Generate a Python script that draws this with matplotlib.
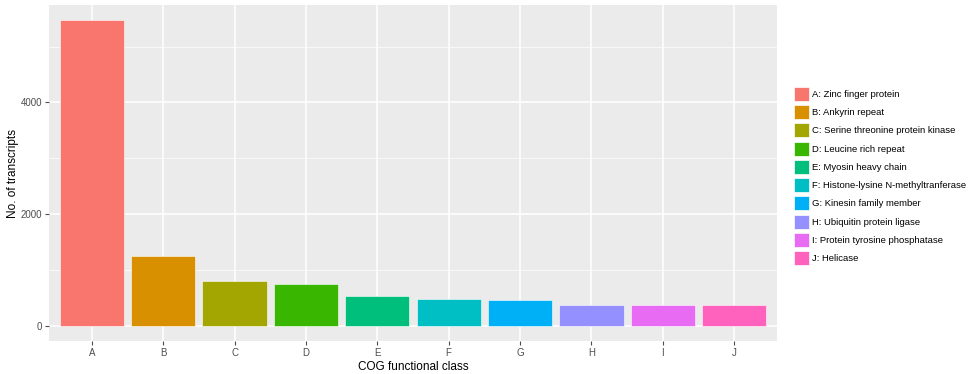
import matplotlib.pyplot as plt
from matplotlib.patches import Patch

# data
classes = ["A", "B", "C", "D", "E", "F", "G", "H", "I", "J"]
names = ["Zinc finger protein", "Ankyrin repeat", "Serine threonine protein kinase",
         "Leucine rich repeat", "Myosin heavy chain", "Histone-lysine N-methyltranferase",
         "Kinesin family member", "Ubiquitin protein ligase", "Protein tyrosine phosphatase",
         "Helicase"]
counts = [5470, 1250, 797, 755, 528, 474, 461, 380, 378, 367]
colors = ["#F8766D", "#D89000", "#A3A500", "#39B600", "#00BF7D",
          "#00BFC4", "#00B0F6", "#9590FF", "#E76BF3", "#FF62BC"]

plt.rcParams['font.family'] = ['Liberation Sans', 'DejaVu Sans']

fig = plt.figure(figsize=(9.77, 3.74), dpi=100)
ax = fig.add_axes([49/977, 33/374, (777-49)/977, (341-5)/374])
ax.set_facecolor("#EBEBEB")

x = list(range(len(classes)))
ax.bar(x, counts, width=0.9, color=colors, edgecolor="white", linewidth=0.4, zorder=3)

ymax = max(counts)
ax.set_ylim(-0.05*ymax, 1.05*ymax)
ax.set_xlim(-0.6, len(classes)-0.4)
ax.set_yticks([0, 2000, 4000])
ax.set_yticks([1000, 3000, 5000], minor=True)
ax.set_xticks(x)
ax.set_xticklabels(classes)
ax.grid(which="major", color="white", linewidth=1.1, zorder=0)
ax.grid(which="minor", axis="y", color="white", linewidth=0.5, zorder=0)
ax.set_axisbelow(True)
for s in ax.spines.values():
    s.set_visible(False)
ax.tick_params(axis="both", which="major", colors="#4D4D4D", labelsize=7, length=3, width=0.8, pad=2)
ax.tick_params(axis="y", which="minor", length=0)
ax.set_xlabel("COG functional class", fontsize=8.5, labelpad=2)
ax.set_ylabel("No. of transcripts", fontsize=8.5, labelpad=1)

handles = [Patch(facecolor=c, edgecolor="white", linewidth=0.5) for c in colors]
labels = [c + ": " + n for c, n in zip(classes, names)]
fig.legend(handles, labels, loc="center left", bbox_to_anchor=(790/977, (374-176)/374),
           frameon=False, fontsize=6.8, handlelength=1.6, handleheight=1.9,
           handletextpad=0.35, labelspacing=0.45, borderaxespad=0)

fig.savefig("out.png", dpi=100)
